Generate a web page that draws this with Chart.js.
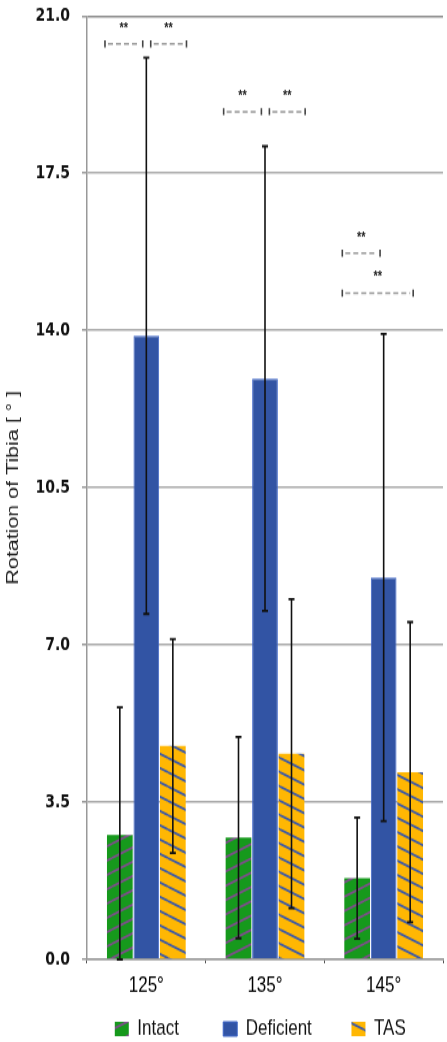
<!DOCTYPE html>
<html>
<head>
<meta charset="utf-8">
<script src="https://cdn.jsdelivr.net/npm/chart.js@4.4.0/dist/chart.umd.min.js"></script>
<style>
  html, body { margin: 0; padding: 0; background: #fff; overflow: hidden; width: 447px; height: 1042px; }
  #outer { width: 447px; height: 1042px; overflow: hidden; position: relative; }
  /* the reference picture is stretched vertically, so the chart is drawn short and scaled */
  #wrap { position: absolute; left: 0; top: 0; width: 447px; height: 810px; transform: scaleY(1.3); transform-origin: 0 0; }
</style>
</head>
<body>
<div id="outer"><div id="wrap"><canvas id="myChart" width="447" height="810" style="width:447px;height:810px"></canvas></div></div>
<script>
const labels = ['125°', '135°', '145°'];
const intact = [2.77, 2.71, 1.81];
const intactErr = [2.84, 2.24, 1.35];
const deficient = [13.88, 12.93, 8.50];
const deficientErr = [6.19, 5.17, 5.42];
const tas = [4.75, 4.58, 4.17];
const tasErr = [2.38, 3.44, 3.34];
const yTicks = [0, 3.5, 7, 10.5, 14, 17.5, 21];

// significance brackets: category, start/end in bar slots (0..3), height in degrees
const sigGroup = [0, 0, 1, 1, 2, 2];
const sigFrom = [0, 1.5, 0, 1.5, 0, 0];
const sigTo = [1.5, 3, 1.5, 3, 1.5, 2.75];
const sigLevel = [20.38, 20.38, 18.87, 18.87, 15.72, 14.83];
const sigText = ['**', '**', '**', '**', '**', '**'];

Chart.defaults.font.family = '"Liberation Sans", Arial, sans-serif';

function hatch(bg, line, up) {
	const w = 28, h = 11;
	const c = document.createElement('canvas');
	c.width = w; c.height = h;
	const g = c.getContext('2d');
	g.fillStyle = bg;
	g.fillRect(0, 0, w, h);
	g.strokeStyle = line;
	g.lineWidth = 1.8;
	for (let k = -1; k <= 1; k++) {
		g.beginPath();
		if (up) { g.moveTo(0, h + k * h); g.lineTo(w, k * h); }
		else { g.moveTo(0, k * h); g.lineTo(w, h + k * h); }
		g.stroke();
	}
	return g.createPattern(c, 'repeat');
}

const errorBars = {
	id: 'errorBars',
	afterDatasetsDraw(chart) {
		const ctx = chart.ctx, y = chart.scales.y;
		ctx.save();
		ctx.strokeStyle = '#111';
		chart.data.datasets.forEach((ds, i) => {
			chart.getDatasetMeta(i).data.forEach((bar, j) => {
				const v = ds.data[j], e = ds.errors[j];
				const top = y.getPixelForValue(v + e);
				const bot = y.getPixelForValue(Math.max(0, v - e));
				ctx.lineWidth = 1.6;
				ctx.beginPath();
				ctx.moveTo(bar.x, top); ctx.lineTo(bar.x, bot);
				ctx.stroke();
				ctx.lineWidth = 1.8;
				ctx.beginPath();
				ctx.moveTo(bar.x - 3, top); ctx.lineTo(bar.x + 3, top);
				ctx.moveTo(bar.x - 3, bot); ctx.lineTo(bar.x + 3, bot);
				ctx.stroke();
			});
		});
		ctx.restore();
	}
};

const sigBrackets = {
	id: 'sigBrackets',
	afterDraw(chart) {
		const ctx = chart.ctx, y = chart.scales.y;
		const first = chart.getDatasetMeta(0).data, second = chart.getDatasetMeta(1).data;
		ctx.save();
		sigGroup.forEach((g, k) => {
			const slot = second[g].x - first[g].x;
			const left = first[g].x - first[g].width / 2;
			const x1 = left + sigFrom[k] * slot + (sigFrom[k] > 0 ? 4 : -2);
			const x2 = left + sigTo[k] * slot - (sigTo[k] < 3 ? 4 : 0);
			const yy = y.getPixelForValue(sigLevel[k]);
			ctx.strokeStyle = '#9a9a9a';
			ctx.lineWidth = 1.5;
			ctx.setLineDash([5, 3]);
			ctx.beginPath();
			ctx.moveTo(x1 + 3, yy); ctx.lineTo(x2 - 3, yy);
			ctx.stroke();
			ctx.setLineDash([]);
			ctx.strokeStyle = '#444';
			ctx.lineWidth = 1.6;
			ctx.beginPath();
			ctx.moveTo(x1, yy - 2.7); ctx.lineTo(x1, yy + 2.7);
			ctx.moveTo(x2, yy - 2.7); ctx.lineTo(x2, yy + 2.7);
			ctx.stroke();
			ctx.fillStyle = '#222';
			ctx.font = 'bold 11px "Liberation Sans"';
			ctx.textAlign = 'center';
			ctx.textBaseline = 'alphabetic';
			ctx.fillText(sigText[k], (x1 + x2) / 2, yy - 15.6 + 6.4);
		});
		ctx.restore();
	}
};

const ctx = document.getElementById('myChart').getContext('2d');
new Chart(ctx, {
	type: 'bar',
	data: {
		labels: labels,
		datasets: [{
			label: 'Intact',
			data: intact,
			errors: intactErr,
			backgroundColor: hatch('#16991c', '#7d4e8a', true),
			borderWidth: 0
		}, {
			label: 'Deficient',
			data: deficient,
			errors: deficientErr,
			backgroundColor: '#3254a4',
			borderColor: '#3f66c8',
			borderWidth: 1
		}, {
			label: 'TAS',
			data: tas,
			errors: tasErr,
			backgroundColor: hatch('#ffb703', '#3d5aa8', false),
			borderWidth: 0
		}]
	},
	options: {
		responsive: false,
		animation: false,
		layout: { padding: { top: 0, right: 4 } },
		datasets: { bar: { categoryPercentage: 0.67, barPercentage: 0.97 } },
		plugins: {
			tooltip: { enabled: false },
			legend: {
				position: 'bottom',
				fullSize: false,
				labels: {
					color: '#111',
					font: { size: 17 },
					boxWidth: 14,
					boxHeight: 11,
					padding: 16,
					generateLabels: function (chart) {
						const items = Chart.defaults.plugins.legend.labels.generateLabels(chart);
						const gaps = ['      ', '     ', '  '];
						items.forEach((it, i) => { it.text += gaps[i]; });
						return items;
					}
				}
			}
		},
		scales: {
			x: {
				afterFit: function (s) { s.height = 29; },
				border: { color: '#999', width: 1.5 },
				grid: { drawOnChartArea: false, tickLength: 3, color: '#555' },
				ticks: { color: '#000', font: { size: 17 }, padding: 7 }
			},
			y: {
				min: 0,
				max: 21,
				afterBuildTicks: function (s) { s.ticks = yTicks.map(v => ({ value: v })); },
				afterFit: function (s) { s.width = 87; s.paddingTop = 12.3; s.paddingBottom = 12.3; },
				border: { color: '#999', width: 1.5 },
				grid: {
					color: c => c.tick && c.tick.value === 21 ? '#8a8a8a' : '#aaaaaa',
					lineWidth: 1.5,
					tickLength: 5,
					tickColor: '#999'
				},
				ticks: {
					color: '#111',
					font: { family: '"DejaVu Sans"', size: 14, weight: 'bold' },
					padding: 12,
					callback: v => v.toFixed(1)
				},
				title: {
					display: true,
					text: 'Rotation of Tibia [ ° ]',
					color: '#222',
					font: { size: 16.5 },
					padding: { top: 4, bottom: 4 }
				}
			}
		}
	},
	plugins: [errorBars, sigBrackets]
});
</script>
</body>
</html>
